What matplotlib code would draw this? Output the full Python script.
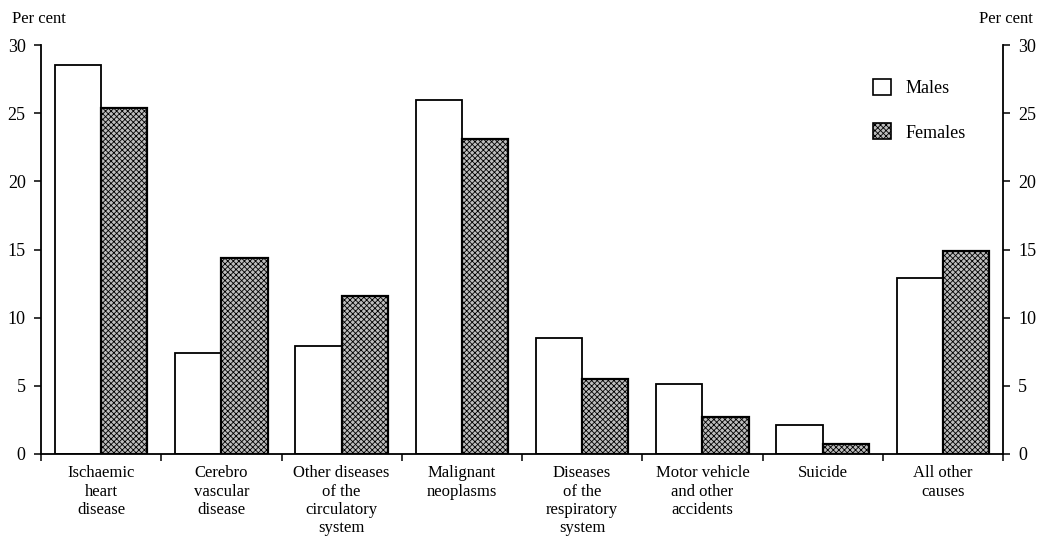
import matplotlib.pyplot as plt
import numpy as np
from matplotlib.patches import Patch

# categories and values (per cent of deaths)
causes = ["Ischaemic\nheart\ndisease", "Cerebro\nvascular\ndisease",
          "Other diseases\nof the\ncirculatory\nsystem", "Malignant\nneoplasms",
          "Diseases\nof the\nrespiratory\nsystem", "Motor vehicle\nand other\naccidents",
          "Suicide", "All other\ncauses"]
males = [28.5, 7.4, 7.9, 26.0, 8.5, 5.1, 2.1, 12.9]
females = [25.4, 14.4, 11.6, 23.1, 5.5, 2.7, 0.7, 14.9]
yticks = [0, 5, 10, 15, 20, 25, 30]

plt.rcParams['font.family'] = ['Liberation Serif', 'DejaVu Serif']
plt.rcParams['hatch.linewidth'] = 0.6

fig = plt.figure(figsize=(10.4, 5.39), dpi=100)
ax = fig.add_axes([41 / 1040, 1 - 454 / 539, (1003 - 41) / 1040, (454 - 45) / 539])

x = np.arange(len(causes))
w = 0.385
ax.bar(x - w / 2, males, w, facecolor='white', edgecolor='black', linewidth=1.3, label='Males')
ax.bar(x + w / 2, females, w, facecolor='#bdbdbd', edgecolor='black', linewidth=1.6,
       hatch='xxxxxx', label='Females')

ax.set_xlim(-0.5, len(causes) - 0.5)
ax.set_ylim(0, 30)
for s in ['top', 'right']:
    ax.spines[s].set_visible(False)
ax.spines['left'].set_linewidth(1.3)
ax.spines['bottom'].set_linewidth(1.3)

ax.set_yticks(yticks)
ax.tick_params(axis='y', direction='out', length=5, width=1.1, labelsize=13, pad=6)

# category boundaries as ticks, labels at centres
ax.set_xticks(np.arange(len(causes) + 1) - 0.5)
ax.set_xticklabels([])
ax.set_xticks(x, minor=True)
ax.set_xticklabels(causes, minor=True, fontsize=12, linespacing=1.2, va='top')
ax.tick_params(axis='x', which='major', direction='out', length=5, width=1.1)
ax.tick_params(axis='x', which='minor', length=0, pad=8)

ax2 = ax.twinx()
ax2.set_ylim(0, 30)
ax2.set_yticks(yticks)
for s in ['top', 'left', 'bottom']:
    ax2.spines[s].set_visible(False)
ax2.spines['right'].set_linewidth(1.3)
ax2.tick_params(axis='y', direction='out', length=5, width=1.1, labelsize=13, pad=6)

fig.text(12 / 1040, 1 - 19 / 539, "Per cent", fontsize=12, va='center', ha='left')
fig.text(1033 / 1040, 1 - 19 / 539, "Per cent", fontsize=12, va='center', ha='right')

handles = [Patch(facecolor='white', edgecolor='black', linewidth=1.2),
           Patch(facecolor='#bdbdbd', edgecolor='black', linewidth=1.2, hatch='xxxxxx')]
ax.legend(handles, ['Males', 'Females'], loc='upper left', bbox_to_anchor=(0.848, 0.957),
          frameon=False, fontsize=13, handlelength=1.0, handleheight=1.0,
          labelspacing=1.45, handletextpad=0.8)

fig.savefig('out.png', dpi=100)
